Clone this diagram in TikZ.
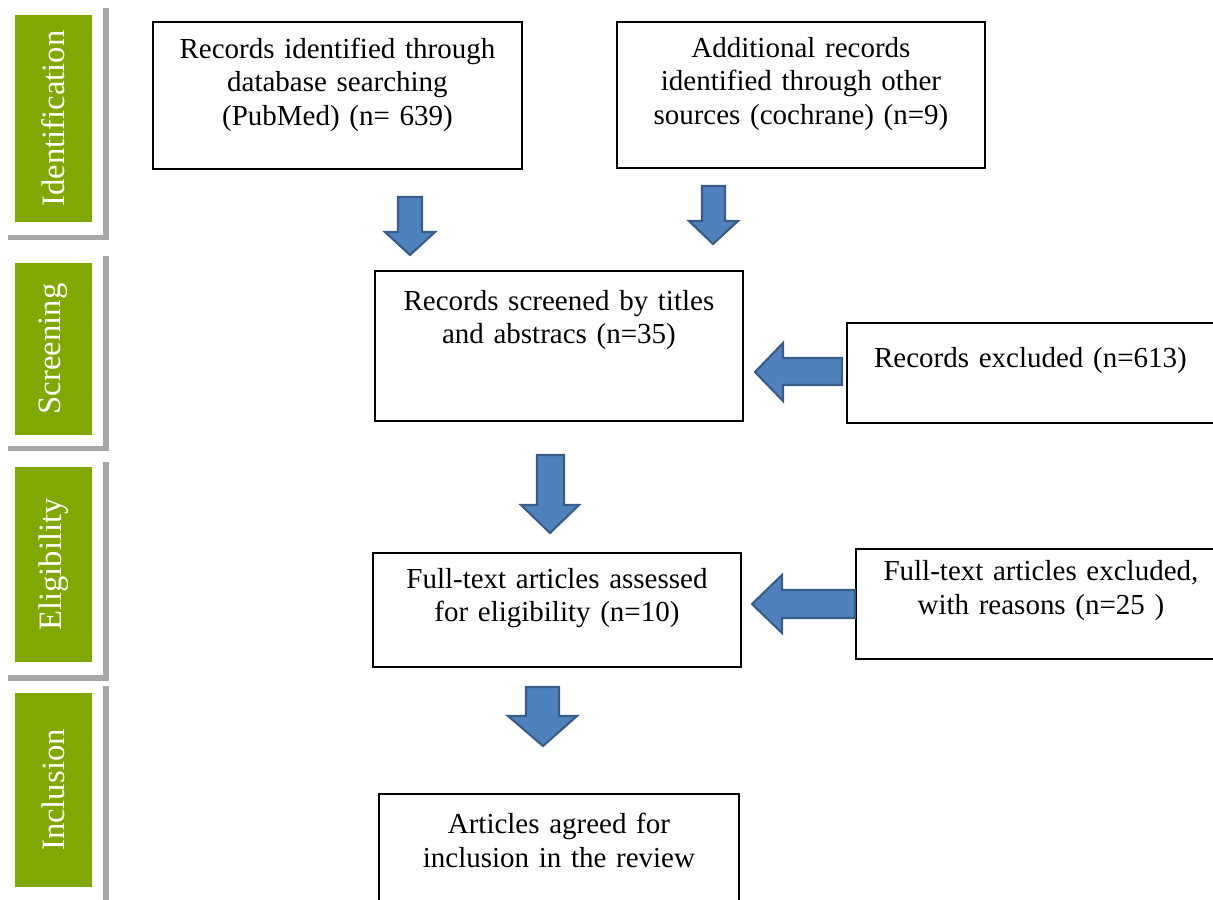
\documentclass[tikz,border=0pt]{standalone}
\usepackage{fontspec}
\setmainfont{Liberation Serif}
\definecolor{stagegreen}{RGB}{127, 168, 0}
\definecolor{stageshadow}{RGB}{166, 166, 166}
\definecolor{arrowblue}{RGB}{79, 129, 189}
\definecolor{arrowedge}{RGB}{56, 93, 138}
\usetikzlibrary{positioning}

\begin{document}
\begin{tikzpicture}[x=0.02cm, y=-0.02cm,
  stage/.style={fill=stagegreen, text=white, rotate=90, minimum height=1.54cm, inner sep=0pt, font=\fontsize{18.6}{20}\selectfont},
  frame/.style={draw=stageshadow, line width=0.11cm},
  box/.style={draw, line width=1.1pt, inner sep=0pt, anchor=north west, text width=7.36cm, align=center, font=\fontsize{16.5}{18.8}\selectfont},
  blockarrow/.style={fill=arrowblue, draw=arrowedge, line width=1.2pt, line join=miter}]
  \useasboundingbox (0,0) rectangle (1213,899);
  \clip (0,0) rectangle (1213,899);

  % Stages
  \draw[frame] (8,237.5) -- (106,237.5) -- (106,8);
  \node[stage, minimum width=4.14cm] (ident) at (53.5,118.5) {Identification};
  \draw[frame] (8,448.5) -- (106,448.5) -- (106,256);
  \node[stage, minimum width=3.44cm] (screen) at (53.5,349) {Screening};
  \draw[frame] (8,678) -- (106,678) -- (106,462);
  \node[stage, minimum width=3.9cm] (elig) at (53.5,564.5) {Eligibility};
  \draw[frame] (106,920) -- (106,686);
  \node[stage, minimum width=3.88cm] (incl) at (53.5,790) {Inclusion};

  % Identification
  \node[box, text width=7.38cm, text height=0.74cm, text depth=2.2cm] (pubmed) at (152,21) {Records identified through\\database searching\\(PubMed) (n= 639)};
  \node[box, text height=0.72cm, text depth=2.2cm] (cochrane) at (616,21) {Additional records\\identified through other\\sources (cochrane) (n=9)};
  \draw[blockarrow] (398,197) -- (422,197) -- (422,232) -- (435,232) -- (410,255) -- (385,232) -- (398,232) -- cycle;
  \draw[blockarrow] (702,186) -- (725,186) -- (725,221) -- (738,221) -- (713,244) -- (689,221) -- (702,221) -- cycle;

  % Screening
  \node[box, text height=0.8cm, text depth=2.2cm] (screened) at (374,270) {Records screened by titles\\and abstracs (n=35)};
  \node[box, text width=7.34cm, text height=0.9cm, text depth=1.1cm] (excl) at (846,322) {Records excluded (n=613)};
  \draw[blockarrow] (842,358) -- (783,358) -- (783,343) -- (755,372) -- (783,401) -- (783,385) -- (842,385) -- cycle;
  \draw[blockarrow] (537,455) -- (564,455) -- (564,505) -- (579,505) -- (550,533) -- (521,505) -- (537,505) -- cycle;

  % Eligibility
  \node[box, text height=0.72cm, text depth=1.56cm] (fulltext) at (372,552) {Full-text articles assessed\\for eligibility (n=10)};
  \node[box, text width=7.4cm, text height=0.64cm, text depth=1.56cm] (ftexcl) at (855,548) {Full-text articles excluded,\\with reasons (n=25 )};
  \draw[blockarrow] (855,590) -- (782,590) -- (782,575) -- (752,604) -- (782,633) -- (782,618) -- (855,618) -- cycle;
  \draw[blockarrow] (526,687) -- (559,687) -- (559,716) -- (577,716) -- (543,746) -- (508,716) -- (526,716) -- cycle;

  % Inclusion
  \node[box, text width=7.2cm, text height=0.8cm, text depth=2.0cm] (agreed) at (378,793) {Articles agreed for\\inclusion in the review};
\end{tikzpicture}
\end{document}
